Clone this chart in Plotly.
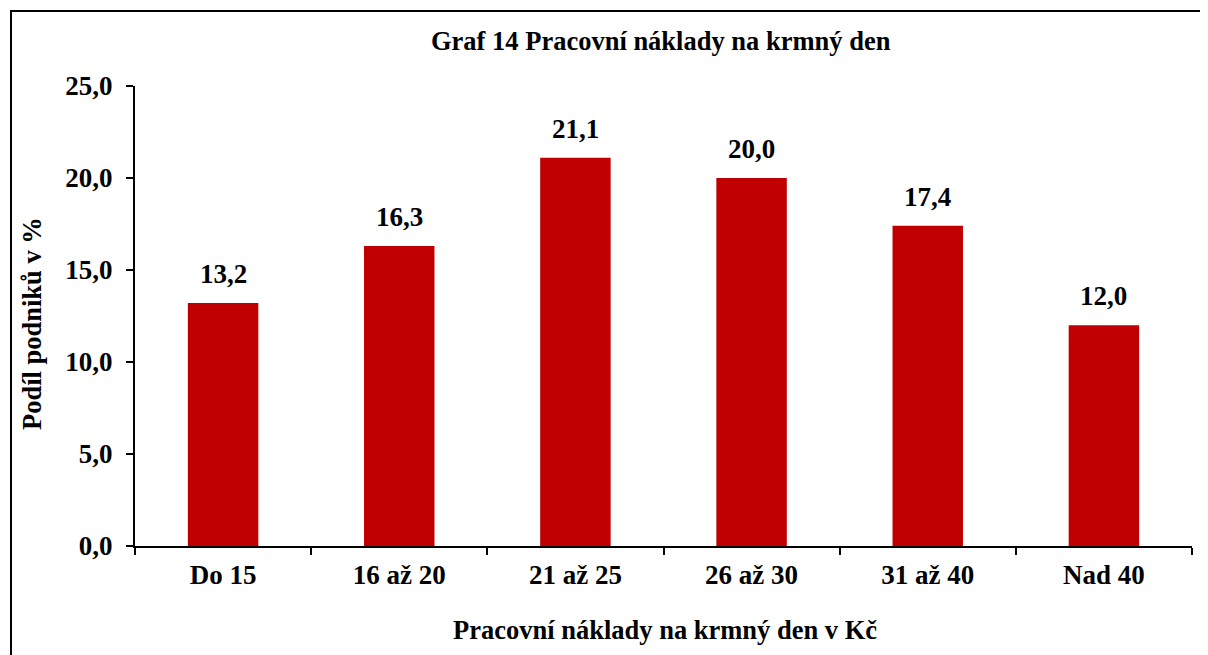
import plotly.graph_objects as go

categories = ["Do 15", "16 až 20", "21 až 25", "26 až 30", "31 až 40", "Nad 40"]
values = [13.2, 16.3, 21.1, 20.0, 17.4, 12.0]
title_text = "Graf 14 Pracovní náklady na krmný den"
x_title = "Pracovní náklady na krmný den v Kč"
y_title = "Podíl podniků v %"

OFF = 8  # page body margin
W, H = 1208 - OFF, 655 - OFF
L, T = 135 - OFF, 86 - OFF
R = W - (1192 - OFF)
B = H - (546 - OFF)
pw, ph = W - L - R, H - T - B

def px_x(p):
    return (p - OFF - L) / pw

def px_y(p):
    return (H - B - (p - OFF)) / ph

font_family = "Liberation Serif, Times New Roman, serif"
TICK = 27
TTL = 26.5

fig = go.Figure(go.Bar(
    x=categories, y=values,
    marker=dict(color="#C00000", line=dict(width=0)),
))

for c, v in zip(categories, values):
    fig.add_annotation(x=c, y=v, xref="x", yref="y", text="<b>" + f"{v:.1f}".replace(".", ",") + "</b>",
                       showarrow=False, yanchor="bottom", yshift=12,
                       font=dict(family=font_family, size=TICK, color="black"))

fig.update_layout(
    width=W, height=H,
    margin=dict(l=L, r=R, t=T, b=B),
    paper_bgcolor="white", plot_bgcolor="white",
    separators=", ",
    bargap=0.6,
    showlegend=False,
    font=dict(family=font_family, color="black"),
)
fig.update_xaxes(
    showline=True, linecolor="black", linewidth=2,
    ticks="outside", tickson="boundaries", ticklen=7, tickwidth=2, tickcolor="black",
    tickfont=dict(family=font_family, size=TICK, color="black"),
    tickprefix="<b>", ticksuffix="</b>", ticklabelstandoff=4,
    showgrid=False, zeroline=False,
)
fig.update_yaxes(
    range=[0, 25], dtick=5, tickformat=".1f",
    showline=True, linecolor="black", linewidth=2,
    ticks="outside", ticklen=7, tickwidth=2, tickcolor="black",
    tickfont=dict(family=font_family, size=TICK, color="black"),
    tickprefix="<b>", ticksuffix="</b>", ticklabelstandoff=8,
    showgrid=False, zeroline=False,
)

fig.add_annotation(text="<b>" + title_text + "</b>", xref="paper", yref="paper",
                   x=px_x(661), y=px_y(41), xanchor="center", yanchor="middle", showarrow=False,
                   font=dict(family=font_family, size=TTL, color="black"))
fig.add_annotation(text="<b>" + x_title + "</b>", xref="paper", yref="paper",
                   x=px_x(665), y=px_y(630), xanchor="center", yanchor="middle", showarrow=False,
                   font=dict(family=font_family, size=TTL, color="black"))
fig.add_annotation(text="<b>" + y_title + "</b>", xref="paper", yref="paper",
                   x=px_x(32), y=px_y(324), xanchor="center", yanchor="middle", showarrow=False, textangle=-90,
                   font=dict(family=font_family, size=TTL, color="black"))

# outer chart border (top and left edges visible in the crop)
fig.add_shape(type="line", xref="paper", yref="paper",
              x0=px_x(10), x1=px_x(1208), y0=px_y(11), y1=px_y(11),
              line=dict(color="black", width=2), layer="below")
fig.add_shape(type="line", xref="paper", yref="paper",
              x0=px_x(11), x1=px_x(11), y0=px_y(10), y1=px_y(655),
              line=dict(color="black", width=2), layer="below")

fig.write_html("out.html")
